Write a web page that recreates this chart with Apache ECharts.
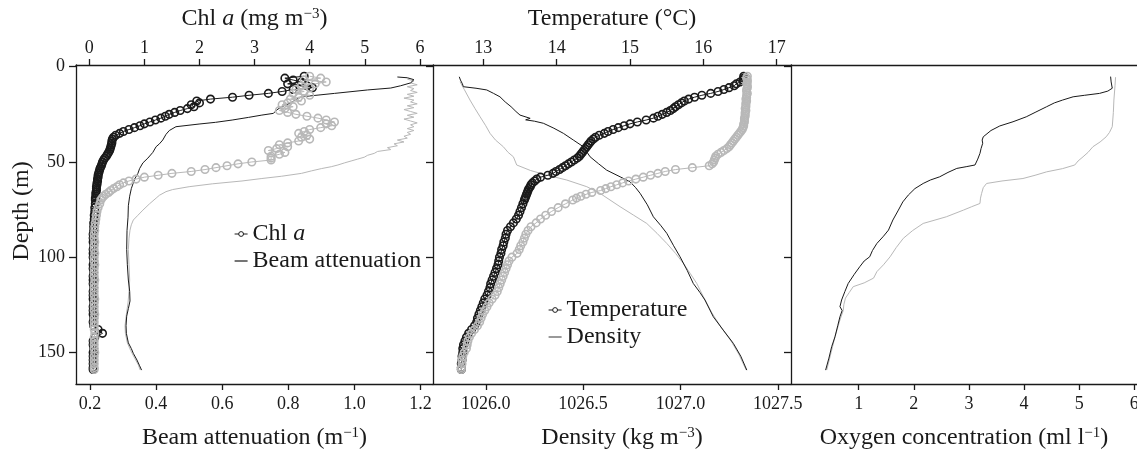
<!DOCTYPE html>
<html><head><meta charset="utf-8">
<script src="https://cdn.jsdelivr.net/npm/echarts@6/dist/echarts.min.js"></script>
<style>html,body{margin:0;padding:0;background:#fff}#c{width:1137px;height:449px}</style>
</head><body><div id="c"></div>
<script>
// ---------------- DATA ----------------
// depth levels (m) shared by the circle-marker profiles
const depthC = [
  5,6,7,8,9,10,11,12,13,14,
  15,16,17,18,19,20,21,22,23,24,
  25,26,27,28,29,30,31,32,33,34,
  35,36,37,38,39,40,41,42,43,44,
  45,46,47,48,49,50,51,52,53,54,
  55,56,57,58,59,60,61,62,63,64,
  65,66,67,68,69,70,72,74,76,78,
  80,82,84,86,88,90,92,94,96,98,
  100,102,104,106,108,110,112,114,116,118,
  120,122,124,126,128,130,132,134,136,138,
  140,142,144,146,148,150,152,154,156,158,
  159];
// Chl a (mg m-3), station 1 (black) and station 2 (grey)
const chlBlack = [
  3.9,3.55,3.7,3.85,3.6,3.95,4.05,3.7,3.5,3.25,
  2.9,2.6,2.2,1.95,2.0,1.85,1.9,1.78,1.65,1.55,
  1.45,1.38,1.3,1.2,1.1,1.0,0.92,0.82,0.72,0.62,
  0.55,0.48,0.44,0.42,0.41,0.41,0.40,0.39,0.38,0.37,
  0.35,0.33,0.31,0.28,0.26,0.24,0.23,0.22,0.2,0.19,
  0.18,0.17,0.16,0.16,0.15,0.15,0.14,0.14,0.13,0.13,
  0.13,0.12,0.12,0.12,0.11,0.11,0.11,0.1,0.1,0.09,
  0.09,0.08,0.08,0.08,0.07,0.07,0.07,0.08,0.07,0.07,
  0.07,0.08,0.07,0.07,0.08,0.07,0.07,0.07,0.08,0.07,
  0.07,0.07,0.08,0.07,0.07,0.07,0.08,0.07,0.08,0.16,
  0.24,0.1,0.07,0.07,0.08,0.07,0.07,0.07,0.07,0.07,
  0.07];
const chlGrey = [
  4.0,4.2,3.9,4.3,4.1,3.85,4.0,3.75,3.9,3.7,
  4.0,3.8,3.65,3.85,3.6,3.5,3.7,3.55,3.45,3.6,
  3.75,3.95,4.15,4.3,4.45,4.3,4.4,4.2,4.0,3.9,
  3.8,3.95,3.85,4.0,3.8,3.6,3.45,3.6,3.4,3.25,
  3.55,3.45,3.3,3.3,3.3,2.95,2.7,2.5,2.3,2.1,
  1.85,1.5,1.25,1.0,0.85,0.72,0.62,0.55,0.5,0.44,
  0.39,0.35,0.3,0.26,0.23,0.21,0.19,0.16,0.14,0.13,
  0.12,0.11,0.1,0.1,0.09,0.09,0.1,0.09,0.09,0.1,
  0.09,0.09,0.1,0.09,0.09,0.09,0.1,0.09,0.09,0.09,
  0.09,0.1,0.09,0.09,0.09,0.1,0.09,0.09,0.09,0.09,
  0.1,0.09,0.09,0.09,0.09,0.1,0.09,0.09,0.09,0.09,
  0.09];
// Temperature (degC)
const tempBlack = [
  16.55,16.55,16.54,16.5,16.45,16.42,16.35,16.28,16.2,16.1,
  15.98,15.88,15.8,15.74,15.7,15.66,15.62,15.59,15.55,15.5,
  15.44,15.38,15.32,15.22,15.1,15.0,14.92,14.84,14.77,14.7,
  14.65,14.58,14.53,14.5,14.47,14.45,14.43,14.41,14.39,14.37,
  14.35,14.33,14.31,14.28,14.24,14.2,14.16,14.12,14.08,14.04,
  13.99,13.95,13.88,13.78,13.73,13.7,13.67,13.65,13.64,13.62,
  13.61,13.6,13.59,13.58,13.57,13.56,13.54,13.52,13.5,13.48,
  13.45,13.41,13.37,13.33,13.31,13.3,13.28,13.27,13.25,13.24,
  13.22,13.21,13.2,13.18,13.16,13.14,13.12,13.1,13.09,13.07,
  13.05,13.02,13.0,12.98,12.96,12.94,12.92,12.91,12.88,12.84,
  12.8,12.77,12.75,12.73,12.72,12.72,12.71,12.71,12.7,12.7,
  12.7];
const tempGrey = [
  16.6,16.59,16.6,16.6,16.59,16.6,16.6,16.59,16.59,16.6,
  16.59,16.59,16.58,16.59,16.58,16.58,16.58,16.57,16.58,16.57,
  16.57,16.57,16.56,16.56,16.56,16.55,16.55,16.54,16.53,16.51,
  16.49,16.47,16.45,16.43,16.41,16.39,16.37,16.35,16.32,16.28,
  16.24,16.2,16.17,16.16,16.15,16.14,16.12,16.08,15.85,15.62,
  15.48,15.38,15.28,15.18,15.08,14.98,14.9,14.82,14.74,14.67,
  14.6,14.48,14.4,14.33,14.27,14.22,14.12,14.02,13.93,13.85,
  13.78,13.72,13.65,13.61,13.58,13.56,13.54,13.51,13.49,13.46,
  13.39,13.35,13.33,13.31,13.29,13.27,13.25,13.23,13.21,13.19,
  13.16,13.12,13.08,13.05,13.02,12.99,12.97,12.95,12.92,12.88,
  12.84,12.81,12.79,12.78,12.77,12.74,12.72,12.71,12.71,12.7,
  12.7];
// Beam attenuation (m-1) as [value, depth]
const beamBlack = [[1.13,5.4],[1.16,5.8],[1.18,6.8],[1.17,8.5],[1.14,10],[1.11,11.2],[1.04,12.2],[0.94,14],[0.89,14.9],[0.84,15.8],[0.82,17.5],[0.805,19.2],[0.78,21],[0.765,22.7],[0.755,24.5],[0.72,25.4],[0.68,26.6],[0.63,28],[0.58,29.2],[0.53,30.1],[0.46,31.5],[0.44,33.5],[0.43,35.5],[0.42,38.5],[0.41,40.5],[0.40,42],[0.39,45],[0.375,48],[0.36,50.5],[0.35,53.5],[0.345,56],[0.335,59],[0.33,61.5],[0.325,64],[0.32,68],[0.316,73],[0.315,79],[0.312,86],[0.311,96],[0.313,104],[0.316,112],[0.32,118],[0.321,123],[0.316,127],[0.311,131],[0.309,136],[0.31,140],[0.316,145],[0.325,148],[0.331,150.5],[0.342,154],[0.35,157],[0.356,159.3]];
const beamGrey = [[1.16,6.5],[1.18,7.5],[1.17,8.5],[1.19,9.5],[1.16,10.5],[1.18,11.5],[1.17,12.5],[1.19,13.5],[1.16,14.5],[1.18,15.5],[1.15,16.5],[1.18,17.5],[1.17,18.5],[1.19,19.5],[1.16,20.5],[1.18,21.5],[1.15,22.5],[1.17,23.5],[1.19,24.5],[1.16,25.5],[1.18,26.5],[1.15,27.5],[1.17,28.5],[1.19,29.5],[1.17,30.5],[1.18,31.5],[1.16,32.5],[1.18,33.5],[1.16,34.5],[1.17,35.5],[1.15,36.5],[1.16,37.5],[1.13,38.5],[1.15,39.5],[1.12,40.5],[1.13,41.5],[1.1,42.5],[1.11,43.5],[1.07,44.5],[1.06,45.5],[1.04,46.5],[1.03,47.5],[1.01,48.5],[0.99,49.5],[0.97,50.5],[0.95,51.6],[0.93,52.5],[0.9,53.5],[0.87,54.7],[0.84,56],[0.78,57.5],[0.72,58.7],[0.66,60],[0.57,61.5],[0.5,63],[0.45,64.5],[0.43,65.6],[0.41,67.5],[0.40,69],[0.38,72],[0.36,75.3],[0.345,78],[0.331,80.5],[0.325,83],[0.321,85.8],[0.318,90],[0.316,96],[0.318,104],[0.32,112],[0.318,118],[0.315,124],[0.31,130],[0.306,136],[0.307,140],[0.313,145],[0.323,149],[0.335,153],[0.346,156.5],[0.352,159.3]];
// Density (kg m-3) as [value, depth]
const densBlack = [[1025.864,5.3],[1025.87,7],[1025.88,9],[1025.885,10.5],[1025.95,11.3],[1026.005,12.2],[1026.04,14],[1026.073,15.8],[1026.1,18.5],[1026.13,21],[1026.155,23.5],[1026.176,25.4],[1026.228,27.1],[1026.205,27.9],[1026.25,28.6],[1026.296,29.7],[1026.35,32.3],[1026.399,35],[1026.45,38.5],[1026.501,42],[1026.536,47.3],[1026.58,51],[1026.621,54.3],[1026.69,57.8],[1026.741,60.4],[1026.77,63.5],[1026.793,66.5],[1026.83,72.5],[1026.861,78.8],[1026.9,83.5],[1026.93,87.5],[1026.965,94],[1026.998,99.8],[1027.035,107],[1027.066,113.8],[1027.1,118.5],[1027.126,122.5],[1027.169,131.3],[1027.22,138.3],[1027.272,145.3],[1027.31,152],[1027.341,159.3]];
const densGrey = [[1025.868,7.9],[1025.89,12],[1025.919,17.5],[1025.945,22],[1025.971,26.3],[1026.0,31],[1026.022,35],[1026.05,38.5],[1026.09,42],[1026.115,45],[1026.142,47.3],[1026.159,51.6],[1026.23,54.5],[1026.313,56.9],[1026.416,59.5],[1026.519,63],[1026.587,66.5],[1026.69,73.5],[1026.76,78],[1026.827,82.3],[1026.88,87.5],[1026.93,92.8],[1026.975,98],[1027.015,103.3],[1027.05,108.5],[1027.084,113.8],[1027.118,120.8],[1027.16,129],[1027.21,137],[1027.26,144],[1027.3,151],[1027.338,159.3]];
// Oxygen (ml l-1) as [value, depth]
const oxBlack = [[5.57,5.2],[5.58,8],[5.6,11.3],[5.52,12.8],[5.37,14],[5.1,15],[4.89,15.8],[4.7,17.5],[4.55,19],[4.41,21],[4.2,24],[4.04,26.3],[3.8,28.9],[3.56,31.1],[3.4,33.5],[3.26,36.8],[3.24,38.5],[3.25,40.2],[3.22,43],[3.2,45.5],[3.16,48.5],[3.11,51.6],[2.95,52.5],[2.78,53.4],[2.62,55.5],[2.47,57.8],[2.3,59.5],[2.17,61.3],[2.02,64],[1.9,67.4],[1.8,71],[1.72,75.3],[1.62,80.5],[1.54,85.8],[1.45,89],[1.33,92.8],[1.25,96.5],[1.2,99.8],[1.1,102],[1.02,105],[0.92,109],[0.81,113.8],[0.75,118],[0.69,122.5],[0.66,126],[0.7,128],[0.66,131.3],[0.62,136],[0.57,141.8],[0.51,147],[0.46,153],[0.4,159.3]];
const oxGrey = [[5.66,5.5],[5.65,10],[5.63,17.5],[5.62,24],[5.6,31.5],[5.55,34.5],[5.49,36.8],[5.38,39.5],[5.25,42],[5.16,45],[5.07,47.3],[4.98,49.5],[4.92,51.6],[4.7,53.5],[4.41,55.2],[4.2,57],[3.98,58.7],[3.6,60],[3.32,61.3],[3.26,63.5],[3.23,66.5],[3.21,69],[3.2,71.8],[3.05,73.5],[2.9,75.3],[2.59,78.8],[2.17,82.3],[1.98,86],[1.81,90.1],[1.68,95],[1.57,99.8],[1.45,104],[1.33,107.6],[1.27,111],[1.1,113.5],[0.9,115.5],[0.83,118.5],[0.76,121.5],[0.73,125],[0.72,128],[0.66,133],[0.57,141.8],[0.5,150],[0.42,159.3]];
// tick labels
const depthTicks = [0,50,100,150];
const chlTicks = [0,1,2,3,4,5,6];
const beamTicks = [0.2,0.4,0.6,0.8,1.0,1.2];
const tempTicks = [13,14,15,16,17];
const densTicks = [1026.0,1026.5,1027.0,1027.5];
const oxTicks = [1,2,3,4,5,6];

// ---------------- CHART ----------------
const FONT = 'Liberation Serif';
const INK = '#1a1a1a';
const GREY = '#b8b8b8';
const zipD = vals => vals.map((v,i)=>[v, depthC[i]]);
const sup = {fontFamily:FONT, fontSize:15, color:INK, verticalAlign:'top', lineHeight:14};
const ita = {fontFamily:FONT, fontSize:24, color:INK, fontStyle:'italic'};
const nameStyle = {fontFamily:FONT, fontSize:24, color:INK, rich:{s:sup, i:ita, n:{fontFamily:FONT,fontSize:24,color:INK}}};
const lineS = {color:INK, width:1.3};

function xAx(grid, pos, min, max, ticks, fmt, name, gap, extra){
  const a = {
    type:'value', gridIndex:grid, position:pos, min:min, max:max,
    axisLine:{show:true, onZero:false, lineStyle:lineS},
    axisTick:{show:!!ticks, length:6, customValues:ticks||[], lineStyle:lineS},
    axisLabel:{show:!!ticks, customValues:ticks||[], margin: pos==='top'?8:11, fontFamily:FONT, fontSize:18, color:INK, formatter:fmt},
    splitLine:{show:false},
    name:name||'', nameLocation:'middle', nameGap:gap||0, nameTextStyle:nameStyle
  };
  return Object.assign(a, extra||{});
}
function yAx(grid, labels){
  return {
    type:'value', gridIndex:grid, inverse:true, min:-0.9, max:166.6,
    axisLine:{show:true, onZero:false, lineStyle:lineS},
    axisTick:{show:true, length:7, customValues:depthTicks, lineStyle:lineS},
    axisLabel:{show:labels, customValues:depthTicks, margin:11, fontFamily:FONT, fontSize:18, color:INK},
    splitLine:{show:false}
  };
}
const f1 = v => (+v).toFixed(1);
const f0 = v => String(v);

function circ(name, xi, data, color, z){
  return {type:'line', name:name, xAxisIndex:xi, yAxisIndex:Math.floor(xi/2), data:data,
    symbol:'circle', symbolSize:7.5, showSymbol:true, z:z,
    lineStyle:{color:color, width:1}, itemStyle:{color:'rgba(255,255,255,0)', borderColor:color, borderWidth:1.6},
    emphasis:{disabled:true}, silent:true};
}
function ln(name, xi, data, color, z){
  return {type:'line', name:name, xAxisIndex:xi, yAxisIndex:Math.floor(xi/2), data:data,
    symbol:'none', z:z, lineStyle:{color:color, width:1}, itemStyle:{color:color},
    emphasis:{disabled:true}, silent:true};
}

const legendBase = {orient:'vertical', itemGap:3, itemWidth:13, itemHeight:6,
  textStyle:{fontFamily:FONT, fontSize:24, color:INK, lineHeight:24, rich:{i:ita}},
  formatter: n => n==='Chl a' ? 'Chl {i|a}' : n, selectedMode:false};
const circItem = n => ({name:n, itemStyle:{color:'#fff', borderColor:INK, borderWidth:1}, lineStyle:{color:INK, width:1}});
const lineItem = (n,c) => ({name:n, itemStyle:{opacity:0}, lineStyle:{color:c, width:1.2}});

const gridBase = {top:65, height:319, outerBoundsMode:'none', containLabel:false};
const option = {
  animation:false,
  backgroundColor:'#fff',
  grid:[
    Object.assign({left:76, width:357}, gridBase),
    Object.assign({left:433, width:358}, gridBase),
    Object.assign({left:791, width:346}, gridBase)
  ],
  xAxis:[
    xAx(0,'top',-0.241,6.238,chlTicks,f0,'{n|Chl }{i|a}{n| (mg m}{s|−3}{n|)}',34),
    xAx(0,'bottom',0.1576,1.2378,beamTicks,f1,'{n|Beam attenuation (m}{s|−1}{n|)}',42),
    xAx(1,'top',12.314,17.195,tempTicks,f0,'Temperature (°C)',34),
    xAx(1,'bottom',1025.729,1027.568,densTicks,f1,'{n|Density (kg m}{s|−3}{n|)}',42,
        {nameTextStyle:Object.assign({}, nameStyle, {padding:[0,0,0,20]})}),
    xAx(2,'bottom',-0.228,6.049,oxTicks,f0,'{n|Oxygen concentration (ml l}{s|−1}{n|)}',42),
    xAx(2,'top',-0.228,6.049,null,f0,'',0)
  ],
  yAxis:[yAx(0,true), yAx(1,false), yAx(2,false)],
  legend:[
    Object.assign({}, legendBase, {data:[circItem('Chl a'), lineItem('Beam attenuation', INK)], left:229, top:217}),
    Object.assign({}, legendBase, {data:[circItem('Temperature'), lineItem('Density', '#555')], left:543, top:293})
  ],
  graphic:[
    {type:'text', x:22, y:211, rotation:Math.PI/2,
     style:{text:'Depth (m)', font:'24px "Liberation Serif"', fill:INK, textAlign:'center', textVerticalAlign:'middle'}}
  ],
  series:[
    circ('Chl a', 0, zipD(chlBlack), INK, 3),
    circ('Chl a st2', 0, zipD(chlGrey), GREY, 4),
    ln('Beam attenuation', 1, beamBlack, INK, 3),
    ln('Beam attenuation st2', 1, beamGrey, GREY, 2),
    circ('Temperature', 2, zipD(tempBlack), INK, 3),
    circ('Temperature st2', 2, zipD(tempGrey), GREY, 4),
    ln('Density', 3, densBlack, INK, 3),
    ln('Density st2', 3, densGrey, GREY, 2),
    ln('Oxygen', 4, oxBlack, INK, 3),
    ln('Oxygen st2', 4, oxGrey, GREY, 2)
  ]
};
const chart = echarts.init(document.getElementById('c'), null, {renderer:'canvas'});
chart.setOption(option);
</script></body></html>
